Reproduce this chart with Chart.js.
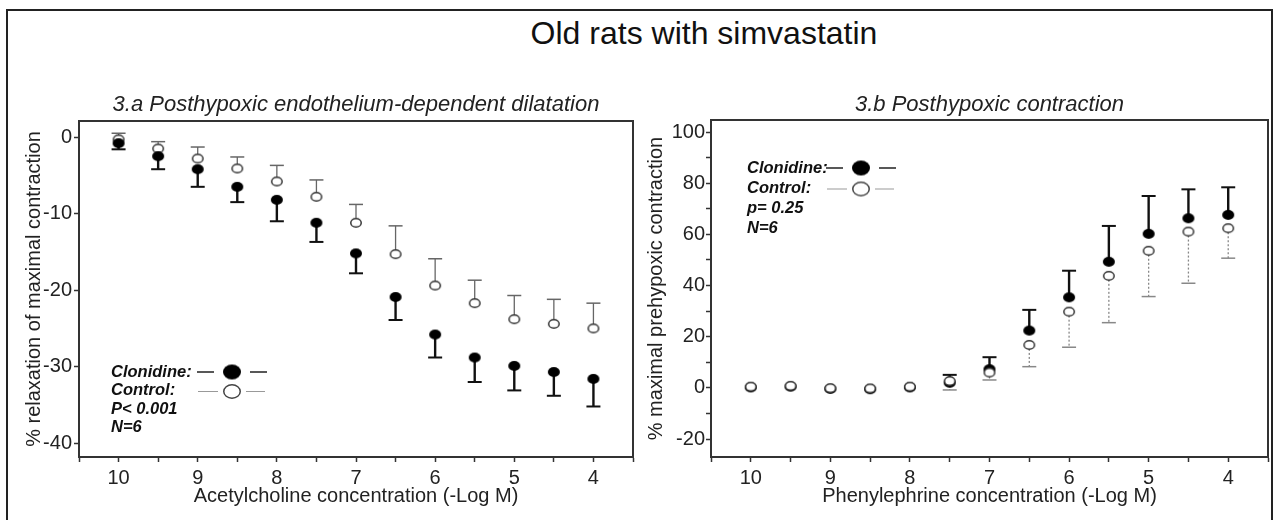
<!DOCTYPE html>
<html>
<head>
<meta charset="utf-8">
<script src="https://cdn.jsdelivr.net/npm/chart.js@4.4.0/dist/chart.umd.min.js"></script>
<style>
  html, body { margin: 0; padding: 0; background: #fff; }
  body { width: 1279px; height: 520px; position: relative; overflow: hidden; font-family: "Liberation Sans", Arial, sans-serif; }
  #frame { position: absolute; left: 6px; top: 9px; width: 1267px; height: 540px; border: 2px solid #222; box-sizing: border-box; }
  #mainTitle { position: absolute; left: 404px; width: 600px; top: 17px; font-size: 32px; line-height: 32px; text-align: center; color: #111; }
  canvas { position: absolute; top: 80px; }
  #left { left: 0; }
  #right { left: 640px; }
</style>
</head>
<body>
<div id="frame"></div>
<div id="mainTitle">Old rats with simvastatin</div>
<canvas id="left" width="640" height="440"></canvas>
<canvas id="right" width="639" height="440"></canvas>
<script>
// ---------- DATA ----------
const concentrations = [10, 9.5, 9, 8.5, 8, 7.5, 7, 6.5, 6, 5.5, 5, 4.5, 4];

// 3.a Acetylcholine: % relaxation of maximal contraction
const achClonidine    = [-0.8, -2.5, -4.2, -6.5, -8.2, -11.2, -15.2, -20.9, -25.8, -28.8, -29.9, -30.7, -31.6];
const achClonidineSem = [0.8, 1.7, 2.3, 2.0, 2.8, 2.5, 2.6, 3.0, 3.0, 3.2, 3.2, 3.1, 3.6];
const achControl      = [-0.3, -1.5, -2.8, -4.1, -5.8, -7.8, -11.2, -15.3, -19.4, -21.7, -23.8, -24.4, -25.0];
const achControlSem   = [0.8, 0.9, 1.5, 1.5, 2.1, 2.2, 2.4, 3.7, 3.5, 3.0, 3.1, 3.2, 3.3];

// 3.b Phenylephrine: % maximal prehypoxic contraction
const peClonidine     = [0.2, 0.5, -0.4, -0.5, 0.2, 2.0, 7.3, 22.4, 35.4, 49.3, 60.2, 66.3, 67.6];
const peClonidineSem  = [0, 0, 0, 0, 0, 3.1, 4.7, 8.1, 10.4, 14.0, 14.8, 11.3, 10.8];
const peControl       = [0.5, 0.8, -0.1, -0.2, 0.5, 2.7, 6.0, 16.8, 29.8, 43.8, 53.6, 61.1, 62.4];
const peControlSem    = [0, 0, 0, 0, 0, 3.5, 2.9, 8.5, 13.9, 18.3, 17.9, 20.2, 11.7];

const leftLegendText  = ["Clonidine:", "Control:", "P< 0.001", "N=6"];
const rightLegendText = ["Clonidine:", "Control:", "p= 0.25", "N=6"];

// ---------- STYLE HELPERS ----------
const FONT = '"Liberation Sans", Arial, sans-serif';

function ellipseImage(w, h, fill, stroke, lw) {
  const c = document.createElement('canvas');
  c.width = w + 2; c.height = h + 2;
  const g = c.getContext('2d');
  g.beginPath();
  g.ellipse(c.width / 2, c.height / 2, w / 2 - (stroke ? lw / 2 : 0), h / 2 - (stroke ? lw / 2 : 0), 0, 0, Math.PI * 2);
  g.fillStyle = fill; g.fill();
  if (stroke) { g.lineWidth = lw; g.strokeStyle = stroke; g.stroke(); }
  return c;
}
const filledMark = ellipseImage(12, 10, '#000', null, 0);
const openMark = ellipseImage(12, 10, '#fff', '#333', 1.5);
const filledLegend = ellipseImage(18, 15, '#000', null, 0);
const openLegend = ellipseImage(18, 15, '#fff', '#444', 1.5);

const boxPlugin = {
  id: 'box',
  beforeDatasetsDraw(chart) {
    const {ctx, chartArea: a} = chart;
    ctx.save();
    ctx.strokeStyle = '#333'; ctx.lineWidth = 2;
    ctx.strokeRect(a.left, a.top, a.right - a.left, a.bottom - a.top);
    ctx.restore();
  }
};

const errorBarPlugin = {
  id: 'errorBars',
  beforeDatasetsDraw(chart) {
    const ctx = chart.ctx, xs = chart.scales.x, ys = chart.scales.y;
    chart.data.datasets.forEach(ds => {
      const e = ds.errStyle;
      if (!e) return;
      ctx.save();
      ctx.strokeStyle = e.color;
      ds.data.forEach((p, i) => {
        const s = ds.sem[i];
        if (!s) return;
        const px = xs.getPixelForValue(p.x);
        const py = ys.getPixelForValue(p.y);
        const pe = ys.getPixelForValue(p.y + e.dir * s);
        ctx.setLineDash(e.dash || []);
        ctx.lineWidth = e.width;
        ctx.beginPath(); ctx.moveTo(px, py); ctx.lineTo(px, pe); ctx.stroke();
        ctx.setLineDash([]);
        ctx.lineWidth = e.capWidth;
        ctx.beginPath(); ctx.moveTo(px - 7, pe); ctx.lineTo(px + 7, pe); ctx.stroke();
      });
      ctx.restore();
    });
  }
};

const legendPlugin = {
  id: 'noteLegend',
  afterDraw(chart, args, opts) {
    const {ctx, chartArea: a} = chart;
    const tx = a.left + opts.textDx;
    const y0 = a.top + opts.rowDy;
    const mx = a.left + opts.markDx;
    ctx.save();
    ctx.font = 'italic bold 16.5px ' + FONT;
    ctx.fillStyle = '#111';
    ctx.textBaseline = 'middle';
    ctx.textAlign = 'left';
    opts.lines.forEach((t, i) => ctx.fillText(t, tx, y0 + i * opts.rowH));
    // clonidine row
    ctx.strokeStyle = '#222'; ctx.lineWidth = 1.5;
    ctx.beginPath();
    ctx.moveTo(mx - 35, y0); ctx.lineTo(mx - 18, y0);
    ctx.moveTo(mx + 18, y0); ctx.lineTo(mx + 35, y0);
    ctx.stroke();
    ctx.drawImage(filledLegend, mx - filledLegend.width / 2, y0 - filledLegend.height / 2);
    // control row
    const y1 = y0 + opts.rowH + 1;
    ctx.strokeStyle = '#999'; ctx.lineWidth = 1.2;
    ctx.beginPath();
    ctx.moveTo(mx - 34, y1); ctx.lineTo(mx - 14, y1);
    ctx.moveTo(mx + 14, y1); ctx.lineTo(mx + 33, y1);
    ctx.stroke();
    ctx.drawImage(openLegend, mx - openLegend.width / 2, y1 - openLegend.height / 2);
    ctx.restore();
  }
};

function makePanel(id, p) {
  const pts = arr => concentrations.map((x, i) => ({x: x, y: arr[i]}));
  return new Chart(document.getElementById(id), {
    type: 'scatter',
    data: {
      datasets: [
        {
          label: 'Clonidine', data: pts(p.clon), sem: p.clonSem, order: p.ctrlOnTop ? 1 : 0,
          pointStyle: filledMark, pointRadius: 6, pointHoverRadius: 6,
          errStyle: {dir: p.clonDir, color: '#111', width: 2.4, capWidth: 2, dash: []}
        },
        {
          label: 'Control', data: pts(p.ctrl), sem: p.ctrlSem, order: p.ctrlOnTop ? 0 : 1,
          pointStyle: openMark, pointRadius: 6, pointHoverRadius: 6,
          errStyle: {dir: -p.clonDir, color: p.ctrlColor, width: 1.3, capWidth: 1.5, dash: p.ctrlDash}
        }
      ]
    },
    options: {
      responsive: false, animation: false, devicePixelRatio: 1,
      events: [],
      layout: {padding: {left: 0, right: p.padRight, top: 0, bottom: 0}},
      plugins: {
        legend: {display: false},
        tooltip: {enabled: false},
        title: {
          display: true, text: p.title, color: '#222', fullSize: false,
          font: {family: FONT, size: 22, style: 'italic', weight: 'normal'},
          padding: {top: 11.8, bottom: p.titlePadBottom}
        },
        noteLegend: p.legend
      },
      scales: {
        x: {
          type: 'linear', reverse: true, min: 3.5, max: 10.5,
          ticks: {
            stepSize: 0.5, autoSkip: false, maxRotation: 0, padding: 4,
            color: '#222', font: {family: FONT, size: 20},
            callback: v => Number.isInteger(v) ? String(v) : ''
          },
          grid: {drawOnChartArea: false, tickLength: 5, color: '#333', tickWidth: 1.5},
          border: {color: '#333', width: 2},
          title: {display: true, text: p.xTitle, color: '#222', font: {family: FONT, size: 20}, padding: {top: 0, bottom: 12}},
          afterFit: s => { s.height = 63; }
        },
        y: {
          type: 'linear', min: p.yMin, max: p.yMax,
          ticks: {
            stepSize: 10, includeBounds: false, padding: p.yTickPad,
            color: '#222', font: {family: FONT, size: 20},
            callback: p.yLabel
          },
          grid: {drawOnChartArea: false, tickLength: 5, color: '#333', tickWidth: 1.5},
          border: {color: '#333', width: 2},
          title: {display: true, text: p.yTitle, color: '#222', font: {family: FONT, size: 20}, padding: {top: p.yTitlePad, bottom: 0}},
          afterFit: s => { s.width = p.yWidth; }
        }
      }
    },
    plugins: [boxPlugin, errorBarPlugin, legendPlugin]
  });
}

makePanel('left', {
  title: '3.a Posthypoxic endothelium-dependent dilatation',
  xTitle: 'Acetylcholine concentration (-Log M)',
  yTitle: '% relaxation of maximal contraction',
  clon: achClonidine, clonSem: achClonidineSem, ctrl: achControl, ctrlSem: achControlSem,
  clonDir: -1, ctrlColor: '#666', ctrlDash: [], ctrlOnTop: false,
  yMin: -41.8, yMax: 2.1, yWidth: 79, yTickPad: 2, yTitlePad: 22,
  yLabel: v => String(v),
  padRight: 3, titlePadBottom: 2.8,
  legend: {lines: leftLegendText, textDx: 32, rowDy: 251, rowH: 18.5, markDx: 153}
});

makePanel('right', {
  title: '3.b Posthypoxic contraction',
  xTitle: 'Phenylephrine concentration (-Log M)',
  yTitle: '% maximal prehypoxic contraction',
  clon: peClonidine, clonSem: peClonidineSem, ctrl: peControl, ctrlSem: peControlSem,
  clonDir: 1, ctrlColor: '#888', ctrlDash: [2, 2], ctrlOnTop: true,
  yMin: -27.0, yMax: 104.7, yWidth: 71, yTickPad: 1, yTitlePad: 4,
  yLabel: v => (v % 20 === 0 ? String(v) : ''),
  padRight: 11, titlePadBottom: 1.8,
  legend: {lines: rightLegendText, textDx: 36, rowDy: 48, rowH: 20, markDx: 150}
});
</script>
</body>
</html>
